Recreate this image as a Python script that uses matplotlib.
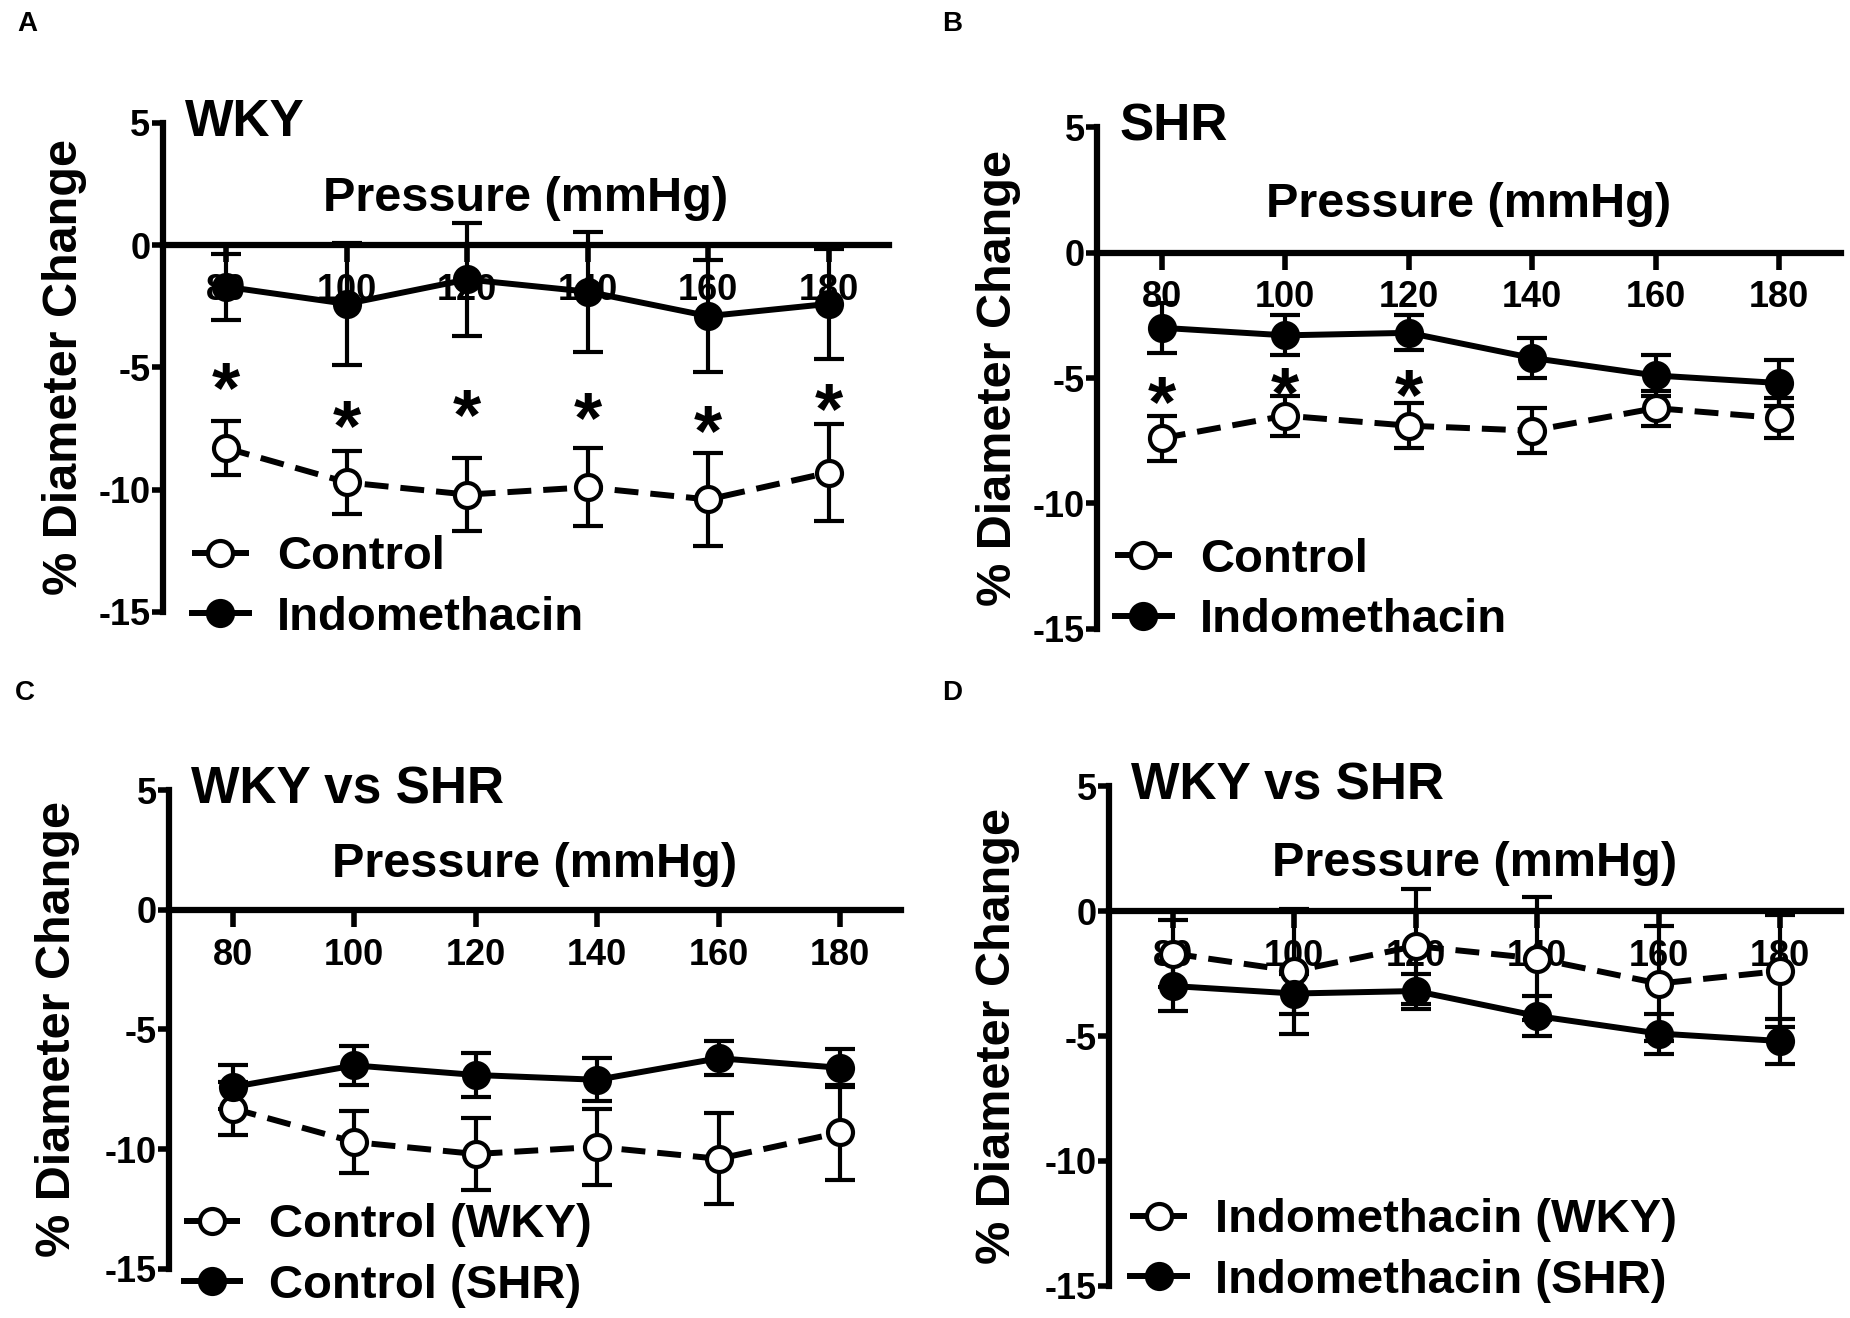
import numpy as np
import matplotlib.pyplot as plt
from matplotlib import transforms

plt.rcParams['font.family'] = ['Liberation Sans', 'DejaVu Sans']
plt.rcParams['font.weight'] = 'bold'
plt.rcParams['axes.unicode_minus'] = False

# data (mean +/- SEM, % diameter change)
pressure = [80, 100, 120, 140, 160, 180]

wky_ctrl = [-8.3, -9.7, -10.2, -9.9, -10.4, -9.3]
wky_ctrl_sem = [1.1, 1.3, 1.5, 1.6, 1.9, 2.0]
wky_indo = [-1.7, -2.4, -1.4, -1.9, -2.9, -2.4]
wky_indo_sem = [1.35, 2.5, 2.3, 2.45, 2.3, 2.25]

shr_ctrl = [-7.4, -6.5, -6.9, -7.1, -6.2, -6.6]
shr_ctrl_sem = [0.9, 0.8, 0.9, 0.9, 0.7, 0.8]
shr_indo = [-3.0, -3.3, -3.2, -4.2, -4.9, -5.2]
shr_indo_sem = [1.0, 0.8, 0.7, 0.8, 0.8, 0.9]

wky_sig = [True, True, True, True, True, True]
shr_sig = [True, True, True, False, False, False]

y_ticks = [5, 0, -5, -10, -15]

LW = 4.3
FS_TICK = 26
FS_LABEL = 35
FS_TITLE = 37
FS_LEG = 34
FS_STAR = 52


def draw_series(ax, y, err, is_open):
    ax.errorbar(pressure, y, yerr=err, fmt='none', ecolor='black',
                elinewidth=3, capsize=11, capthick=3, zorder=3)
    if is_open:
        line, = ax.plot(pressure, y, color='black', lw=LW, ls=(0, (4, 2)),
                        marker='o', ms=18, mfc='white', mec='black', mew=3,
                        zorder=4)
    else:
        line, = ax.plot(pressure, y, color='black', lw=LW, ls='-',
                        marker='o', ms=18, mfc='black', mec='black', mew=3,
                        zorder=5)
    return line


def setup_panel(fig, rect, title, open_series, filled_series, labels,
                leg_anchor, ylab_x, stars=None):
    ax = fig.add_axes(rect)
    ax.set_axisbelow(True)
    ax.set_xlim(69.5, 190)
    ax.set_ylim(-15, 5)
    for s in ['top', 'right']:
        ax.spines[s].set_visible(False)
    ax.spines['bottom'].set_position(('data', 0))
    ax.spines['bottom'].set_linewidth(4.5)
    ax.spines['left'].set_linewidth(4.5)
    ax.set_xticks(pressure)
    ax.set_yticks(y_ticks)
    ax.tick_params(axis='x', direction='out', length=12, width=4,
                   labelsize=FS_TICK, pad=8)
    ax.tick_params(axis='y', direction='out', length=8, width=4,
                   labelsize=FS_TICK, pad=1)

    l_open = draw_series(ax, *open_series, True)
    l_fill = draw_series(ax, *filled_series, False)

    if stars is not None:
        sig, lo_y, lo_e, hi_y, hi_e = stars
        for x, s, a, ae, b, be in zip(pressure, sig, lo_y, lo_e, hi_y, hi_e):
            if s:
                mid = ((a + ae) + (b - be)) / 2
                ax.annotate('*', (x, mid), xytext=(0, -0.58 * FS_STAR),
                            textcoords='offset points', ha='center',
                            va='baseline', fontsize=FS_STAR, fontweight='bold')

    ax.text(0.03, 1.0, title, transform=ax.transAxes, ha='left', va='center',
            fontsize=FS_TITLE, fontweight='bold')
    trans = transforms.blended_transform_factory(ax.transAxes, ax.transData)
    ax.text(0.5, 1.9, 'Pressure (mmHg)', transform=trans, ha='center',
            va='center', fontsize=FS_LABEL, fontweight='bold')
    ax.set_ylabel('% Diameter Change', fontsize=FS_LABEL, fontweight='bold',
                  va='center')
    ax.yaxis.set_label_coords(ylab_x, 0.5)

    ax.legend([l_open, l_fill], labels, loc='center left',
              bbox_to_anchor=leg_anchor, frameon=False, fontsize=FS_LEG,
              handlelength=1.2, handletextpad=0.6, labelspacing=0.35,
              borderpad=0, borderaxespad=0, numpoints=1)
    return ax


fig = plt.figure(figsize=(18.5, 13.18), dpi=100)

setup_panel(fig, [0.0881, 0.5357, 0.3924, 0.371], 'WKY',
            (wky_ctrl, wky_ctrl_sem), (wky_indo, wky_indo_sem),
            ['Control', 'Indomethacin'], (0.04, 0.05), -0.136,
            stars=(wky_sig, wky_ctrl, wky_ctrl_sem, wky_indo, wky_indo_sem))

setup_panel(fig, [0.593, 0.5228, 0.402, 0.3808], 'SHR',
            (shr_ctrl, shr_ctrl_sem), (shr_indo, shr_indo_sem),
            ['Control', 'Indomethacin'], (0.024, 0.078), -0.132,
            stars=(shr_sig, shr_ctrl, shr_ctrl_sem, shr_indo, shr_indo_sem))

setup_panel(fig, [0.0914, 0.0372, 0.3956, 0.3634], 'WKY vs SHR',
            (wky_ctrl, wky_ctrl_sem), (shr_ctrl, shr_ctrl_sem),
            ['Control (WKY)', 'Control (SHR)'], (0.02, 0.028), -0.152)

setup_panel(fig, [0.5995, 0.0243, 0.3955, 0.3793], 'WKY vs SHR',
            (wky_indo, wky_indo_sem), (shr_indo, shr_indo_sem),
            ['Indomethacin (WKY)', 'Indomethacin (SHR)'], (0.029, 0.071),
            -0.152)

for lab, x, y in [('A', 17, 11), ('B', 942, 11), ('C', 15, 680), ('D', 942, 680)]:
    fig.text(x / 1850, 1 - y / 1318, lab, ha='left', va='top', fontsize=20,
             fontweight='bold')

fig.savefig('out.png', dpi=100)
